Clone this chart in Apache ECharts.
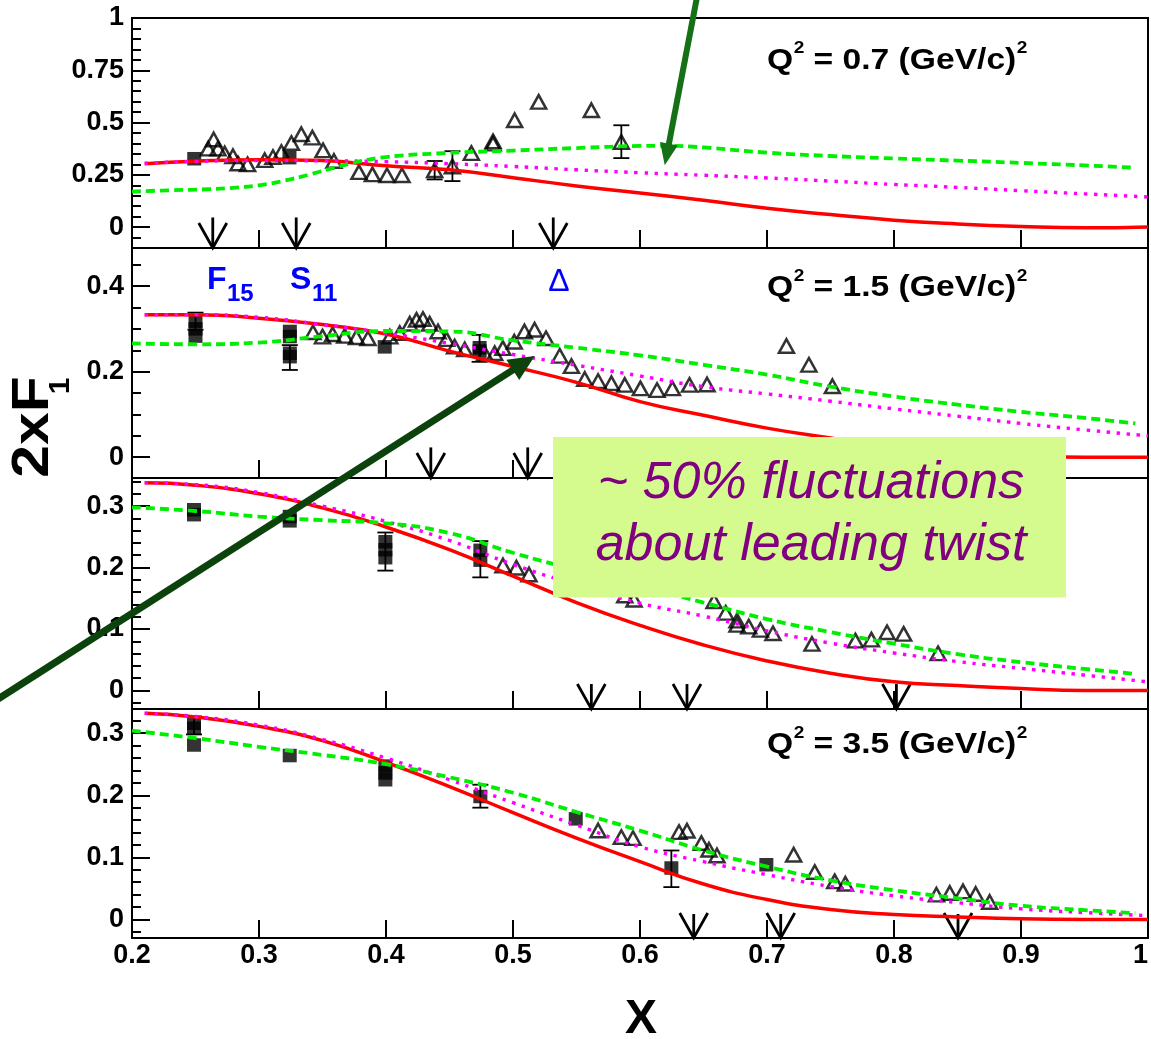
<!DOCTYPE html>
<html>
<head>
<meta charset="utf-8">
<title>2xF1 versus x</title>
<script src="https://cdn.jsdelivr.net/npm/echarts@6.0.0/dist/echarts.min.js"></script>
<style>
  html, body { margin: 0; padding: 0; background: #ffffff; }
  #chart { width: 1151px; height: 1039px; }
</style>
</head>
<body>
<div id="chart"></div>
<script>
// ---------------- axis ticks ----------------
const xTickValues  = [0.3, 0.4, 0.5, 0.6, 0.7, 0.8, 0.9];
const xLabelValues = [0.2, 0.3, 0.4, 0.5, 0.6, 0.7, 0.8, 0.9, 1.0];

const yTicks07 = [0, 0.25, 0.5, 0.75, 1];
const yTicks15 = [0, 0.2, 0.4];
const yTicks25 = [0, 0.1, 0.2, 0.3];
const yTicks35 = [0, 0.1, 0.2, 0.3];

const qValues = ['0.7', '1.5', null, '3.5'];

// ---------------- model curves ----------------
const curveX   = [0.21, 0.25, 0.30, 0.35, 0.40, 0.45, 0.50, 0.55, 0.60, 0.65, 0.70, 0.75, 0.80, 0.85, 0.90, 0.95, 1.00];
const greenX   = [0.20, 0.25, 0.30, 0.35, 0.40, 0.45, 0.50, 0.55, 0.60, 0.65, 0.70, 0.75, 0.80, 0.85, 0.90, 0.95, 0.99];
const greenX07 = [0.20, 0.23, 0.26, 0.28, 0.30, 0.32, 0.34, 0.36, 0.38, 0.40, 0.44, 0.50, 0.55, 0.60, 0.62, 0.65, 0.70, 0.75, 0.80, 0.85, 0.90, 0.95, 0.99];

const red07   = [0.303, 0.315, 0.322, 0.318, 0.293, 0.274, 0.236, 0.197, 0.163, 0.128, 0.090, 0.060, 0.033, 0.015, 0.003, -0.003, 0.001];
const mag07   = [0.305, 0.314, 0.318, 0.317, 0.313, 0.303, 0.290, 0.274, 0.260, 0.248, 0.235, 0.220, 0.204, 0.190, 0.174, 0.159, 0.144];
const green07 = [0.170, 0.176, 0.181, 0.188, 0.200, 0.222, 0.252, 0.285, 0.315, 0.335, 0.352, 0.366, 0.378, 0.388, 0.389, 0.381, 0.356, 0.340, 0.328, 0.318, 0.307, 0.295, 0.284];

const red15   = [0.333, 0.333, 0.325, 0.310, 0.288, 0.248, 0.212, 0.175, 0.130, 0.098, 0.068, 0.045, 0.024, 0.011, 0.004, 0.000, 0.000];
const mag15   = [0.333, 0.333, 0.327, 0.310, 0.290, 0.266, 0.240, 0.215, 0.190, 0.165, 0.148, 0.131, 0.113, 0.096, 0.079, 0.064, 0.050];
const green15 = [0.266, 0.264, 0.268, 0.283, 0.295, 0.294, 0.273, 0.256, 0.238, 0.216, 0.193, 0.165, 0.142, 0.123, 0.106, 0.092, 0.079];

const red25   = [0.338, 0.334, 0.320, 0.297, 0.266, 0.229, 0.186, 0.143, 0.106, 0.074, 0.048, 0.028, 0.014, 0.008, 0.003, 0.000, 0.000];
const mag25   = [0.338, 0.335, 0.322, 0.300, 0.275, 0.244, 0.205, 0.172, 0.142, 0.121, 0.097, 0.077, 0.061, 0.047, 0.036, 0.025, 0.014];
const green25 = [0.298, 0.292, 0.283, 0.277, 0.272, 0.256, 0.224, 0.196, 0.170, 0.143, 0.116, 0.095, 0.076, 0.059, 0.046, 0.035, 0.027];

const red35   = [0.332, 0.326, 0.311, 0.288, 0.253, 0.214, 0.172, 0.131, 0.093, 0.057, 0.032, 0.016, 0.008, 0.004, 0.001, 0.000, 0.000];
const mag35   = [0.332, 0.327, 0.313, 0.290, 0.260, 0.225, 0.188, 0.152, 0.117, 0.093, 0.072, 0.053, 0.038, 0.027, 0.017, 0.011, 0.006];
const green35 = [0.304, 0.292, 0.278, 0.265, 0.250, 0.229, 0.204, 0.173, 0.143, 0.111, 0.085, 0.063, 0.047, 0.034, 0.022, 0.015, 0.010];

// ---------------- measurements ----------------
const sq07 = [[0.249, 0.327], [0.324, 0.332]];
const tri07 = [
  [0.260, 0.375], [0.2643, 0.419], [0.2677, 0.375], [0.273, 0.352], [0.2795, 0.339], [0.2835, 0.304],
  [0.291, 0.300], [0.3045, 0.320], [0.311, 0.335], [0.3176, 0.359], [0.3255, 0.402], [0.3333, 0.444],
  [0.342, 0.428], [0.3504, 0.367], [0.359, 0.316], [0.3787, 0.263], [0.3893, 0.252], [0.4008, 0.248],
  [0.4126, 0.248], [0.4383, 0.272], [0.4523, 0.290], [0.4672, 0.354], [0.4843, 0.399], [0.4843, 0.410],
  [0.5013, 0.511], [0.5202, 0.599], [0.5617, 0.559], [0.5853, 0.407]
];
const err07 = [[0.4383, 0.228, 0.316], [0.4523, 0.220, 0.363], [0.5853, 0.330, 0.487]];
const res07 = [0.2636, 0.3293, 0.5317];

const sq15 = [
  [0.250, 0.318], [0.250, 0.300], [0.250, 0.283], [0.3243, 0.294], [0.3243, 0.282],
  [0.3243, 0.243], [0.3243, 0.235], [0.399, 0.258], [0.4737, 0.256], [0.4737, 0.248]
];
const tri15 = [
  [0.3425, 0.292], [0.350, 0.282], [0.358, 0.2875], [0.3675, 0.2836], [0.3767, 0.2805], [0.3858, 0.278],
  [0.403, 0.282], [0.4108, 0.290], [0.4187, 0.312], [0.424, 0.321], [0.4291, 0.323], [0.4344, 0.312],
  [0.441, 0.294], [0.4476, 0.276], [0.454, 0.2586], [0.462, 0.252], [0.4777, 0.243], [0.4856, 0.243],
  [0.492, 0.255], [0.501, 0.270], [0.509, 0.294], [0.517, 0.298], [0.526, 0.278], [0.5368, 0.237],
  [0.546, 0.213], [0.5565, 0.183], [0.567, 0.178], [0.5775, 0.173], [0.588, 0.169], [0.6003, 0.161],
  [0.6134, 0.157], [0.6255, 0.161], [0.639, 0.169], [0.6528, 0.170], [0.7153, 0.260], [0.733, 0.216],
  [0.7515, 0.166]
];
const err15 = [[0.250, 0.298, 0.338], [0.3243, 0.204, 0.262], [0.4737, 0.223, 0.286]];
const res15 = [0.4353, 0.5116];

const sq25 = [
  [0.2488, 0.294], [0.2488, 0.286], [0.3242, 0.283], [0.3242, 0.276], [0.3995, 0.242],
  [0.3995, 0.229], [0.3995, 0.216], [0.4743, 0.228], [0.4743, 0.212]
];
const tri25 = [
  [0.4921, 0.2034], [0.5027, 0.1997], [0.5126, 0.1887], [0.588, 0.1545], [0.5953, 0.1475], [0.6583, 0.1452],
  [0.6675, 0.1263], [0.6764, 0.1137], [0.6764, 0.1067], [0.6856, 0.1039], [0.6948, 0.0985], [0.7047, 0.093],
  [0.7354, 0.0757], [0.7696, 0.0811], [0.7822, 0.0827], [0.7945, 0.0946], [0.8076, 0.092], [0.8347, 0.0604]
];
const err25 = [[0.3995, 0.195, 0.257], [0.4743, 0.184, 0.243]];
const res25 = [0.5617, 0.637, 0.8019];

const sq35 = [
  [0.2488, 0.316], [0.2488, 0.308], [0.2488, 0.281], [0.3242, 0.264], [0.3995, 0.247], [0.3995, 0.236],
  [0.3995, 0.225], [0.4743, 0.198], [0.5494, 0.162], [0.6247, 0.0828], [0.6995, 0.088]
];
const tri35 = [
  [0.567, 0.1433], [0.5853, 0.1327], [0.5945, 0.131], [0.6307, 0.1407], [0.637, 0.1428], [0.6483, 0.123],
  [0.6543, 0.1122], [0.6606, 0.103], [0.721, 0.1042], [0.7376, 0.0763], [0.7533, 0.0612], [0.7617, 0.0575],
  [0.8334, 0.0398], [0.8439, 0.0425], [0.8543, 0.0451], [0.8643, 0.0409], [0.8753, 0.028]
];
const err35 = [[0.2488, 0.298, 0.327], [0.4743, 0.180, 0.217], [0.6247, 0.052, 0.111]];
const res35 = [0.6423, 0.7108, 0.8504];

// ---------------- panel set-up ----------------
const FONT = '"Liberation Sans", Arial, Helvetica, sans-serif';
const LEFT = 132, WIDTH = 1016;

const panels = [
  { top: 18,  height: 230, min: -0.1,    max: 1.0,    major: yTicks07, step: 0.05, arrowTop: 0.046,
    sq: sq07, tri: tri07, err: err07, res: res07, red: red07, mag: mag07, green: green07, gx: greenX07 },
  { top: 248, height: 230, min: -0.0485, max: 0.489,  major: yTicks15, step: 0.05, arrowTop: 0.023,
    sq: sq15, tri: tri15, err: err15, res: res15, red: red15, mag: mag15, green: green15, gx: greenX },
  { top: 478, height: 231, min: -0.0302, max: 0.3457, major: yTicks25, step: 0.02, arrowTop: 0.0104,
    sq: sq25, tri: tri25, err: err25, res: res25, red: red25, mag: mag25, green: green25, gx: greenX },
  { top: 709, height: 229, min: -0.030,  max: 0.339,  major: yTicks35, step: 0.02, arrowTop: 0.0087,
    sq: sq35, tri: tri35, err: err35, res: res35, red: red35, mag: mag35, green: green35, gx: greenX }
];

function minorTicks(p) {
  const out = [];
  for (let k = Math.ceil(p.min / p.step - 1e-9); k * p.step <= p.max + 1e-9; k++) {
    const v = +(k * p.step).toFixed(4);
    if (Math.abs(v - p.min) < 1e-6 || Math.abs(v - p.max) < 1e-6) continue;
    if (p.major.some(m => Math.abs(m - v) < 1e-6)) continue;
    out.push(v);
  }
  return out;
}

const fmt = v => String(Math.round(v * 100) / 100);
const black = '#000000';

function renderErr(params, api) {
  const x = api.value(0);
  const pLo = api.coord([x, api.value(1)]);
  const pHi = api.coord([x, api.value(2)]);
  const w = 8;
  const st = { stroke: black, lineWidth: 1.8 };
  return { type: 'group', children: [
    { type: 'line', shape: { x1: pLo[0], y1: pLo[1], x2: pHi[0], y2: pHi[1] }, style: st },
    { type: 'line', shape: { x1: pLo[0] - w, y1: pLo[1], x2: pLo[0] + w, y2: pLo[1] }, style: st },
    { type: 'line', shape: { x1: pHi[0] - w, y1: pHi[1], x2: pHi[0] + w, y2: pHi[1] }, style: st }
  ]};
}

function renderRes(params, api) {
  const x = api.value(0);
  const p0 = api.coord([x, api.value(1)]);
  const p1 = api.coord([x, api.value(2)]);
  const st = { stroke: black, lineWidth: 2.8, fill: null };
  return { type: 'group', children: [
    { type: 'line', shape: { x1: p0[0], y1: p0[1], x2: p1[0], y2: p1[1] }, style: st },
    { type: 'polyline', shape: { points: [[p1[0] - 14, p1[1] - 25], [p1[0], p1[1]], [p1[0] + 14, p1[1] - 25]] }, style: st }
  ]};
}

const grids = [], xAxes = [], yAxes = [], series = [];
const firstSeries = [];

panels.forEach((p, i) => {
  grids.push({ left: LEFT, width: WIDTH, top: p.top, height: p.height, show: true,
    borderColor: black, borderWidth: 2, backgroundColor: 'rgba(0,0,0,0)', outerBoundsMode: 'none' });

  xAxes.push({
    type: 'value', gridIndex: i, min: 0.2, max: 1.0,
    axisLine: { show: true, onZero: false, lineStyle: { color: black, width: 2 } },
    axisTick: { show: true, inside: true, length: 18, customValues: xTickValues, lineStyle: { color: black, width: 2 } },
    axisLabel: { show: i === 3, customValues: xLabelValues, formatter: fmt, margin: 4, color: black,
      fontSize: 27, fontWeight: 'bold', fontFamily: FONT, alignMaxLabel: 'right' },
    splitLine: { show: false }
  });

  yAxes.push({
    type: 'value', gridIndex: i, min: p.min, max: p.max, position: 'left',
    axisLine: { show: true, onZero: false, lineStyle: { color: black, width: 2 } },
    axisTick: { show: true, inside: true, length: 18, customValues: p.major, lineStyle: { color: black, width: 2 } },
    axisLabel: { show: true, customValues: p.major, formatter: fmt, margin: 8, color: black,
      fontSize: 27, fontWeight: 'bold', fontFamily: FONT },
    splitLine: { show: false }
  });
  yAxes.push({
    type: 'value', gridIndex: i, min: p.min, max: p.max, position: 'left',
    axisLine: { show: false },
    axisTick: { show: true, inside: true, length: 9, customValues: minorTicks(p), lineStyle: { color: black, width: 2 } },
    axisLabel: { show: false },
    splitLine: { show: false }
  });

  const axes = { xAxisIndex: i, yAxisIndex: 2 * i };
  firstSeries.push(series.length);

  series.push(Object.assign({
    type: 'scatter', data: p.sq, symbol: 'rect', symbolSize: [14, 13.5],
    itemStyle: { color: black }, silent: true, z: 2
  }, axes));
  series.push(Object.assign({
    type: 'scatter', data: p.tri, symbol: 'triangle', symbolSize: [15, 13.5],
    itemStyle: { color: 'rgba(0,0,0,0)', borderColor: black, borderWidth: 2.5 }, silent: true, z: 2
  }, axes));
  series.push(Object.assign({
    type: 'custom', renderItem: renderErr, data: p.err, encode: { x: 0, y: [1, 2] }, silent: true, z: 2
  }, axes));
  series.push(Object.assign({
    type: 'custom', renderItem: renderRes, data: p.res.map(x => [x, p.arrowTop, p.min]),
    encode: { x: 0, y: [1, 2] }, silent: true, z: 2
  }, axes));

  const lineBase = { type: 'line', showSymbol: false, symbol: 'none', smooth: 0.5,
    silent: true, z: 3, clip: true };
  series.push(Object.assign({}, lineBase, axes, {
    data: curveX.map((x, k) => [x, p.red[k]]),
    lineStyle: { color: '#ff0000', width: 3.5, type: 'solid' }
  }));
  series.push(Object.assign({}, lineBase, axes, {
    data: curveX.map((x, k) => [x, p.mag[k]]),
    lineStyle: { color: '#ff00ff', width: 3.4, type: [3.4, 6.6], cap: 'butt' }
  }));
  series.push(Object.assign({}, lineBase, axes, {
    data: p.gx.map((x, k) => [x, p.green[k]]),
    lineStyle: { color: '#00ee00', width: 3.8, type: [9, 5], cap: 'butt' }
  }));
});

const chart = echarts.init(document.getElementById('chart'), null, { renderer: 'canvas' });
chart.setOption({
  animation: false,
  backgroundColor: '#ffffff',
  grid: grids,
  xAxis: xAxes,
  yAxis: yAxes,
  series: series
});

// ---------------- annotations ----------------
const measureCtx = document.createElement('canvas').getContext('2d');
function textWidth(txt, font) { measureCtx.font = font; return measureCtx.measureText(txt).width; }

function txt(text, x, y, font, fill, align, extra) {
  return Object.assign({
    type: 'text', x: x, y: y, silent: true,
    style: { text: text, font: font, fill: fill || black,
      align: align || 'left', verticalAlign: 'middle',
      textAlign: align || 'left', textVerticalAlign: 'middle' }
  }, extra || {});
}

const fMain = 'bold 30px "Liberation Sans"';
const fSup  = 'bold 17px "Liberation Sans"';
const qCapY = [60.8, 288, null, 745];

const graphics = [];

// Q^2 labels in the upper right corner of each panel
qValues.forEach((q, i) => {
  if (q === null) return;
  const y = qCapY[i];
  const wQ = textWidth('Q', fMain);
  const w2 = textWidth('2', fSup);
  const mid = ' = ' + q + ' (GeV/c)';
  const wMid = textWidth(mid, fMain);
  graphics.push({
    type: 'group', x: 767, y: 0, scaleX: 1.12, z: 50, silent: true,
    children: [
      txt('Q', 0, y, fMain),
      txt('2', wQ + 0.5, y - 12, fSup),
      txt(mid, wQ + w2 + 0.5, y, fMain),
      txt('2', wQ + w2 + wMid + 1, y - 12, fSup)
    ]
  });
});

// resonance names
const blue = '#0000ff';
graphics.push(txt('F', 207, 280, 'bold 32px "Liberation Sans"', blue, 'left', { z: 50 }));
graphics.push(txt('15', 227, 294, 'bold 24px "Liberation Sans"', blue, 'left', { z: 50 }));
graphics.push(txt('S', 290, 280, 'bold 32px "Liberation Sans"', blue, 'left', { z: 50 }));
graphics.push(txt('11', 312, 294, 'bold 24px "Liberation Sans"', blue, 'left', { z: 50 }));
graphics.push(txt('\u0394', 559, 282, '32px "Liberation Sans"', blue, 'center', { z: 50 }));

// axis titles
graphics.push(txt('2xF', 33.5, 427, 'bold 52px "Liberation Sans"', black, 'center',
  { rotation: Math.PI / 2, scaleX: 1.13, z: 50 }));
graphics.push(txt('1', 61, 386, 'bold 30px "Liberation Sans"', black, 'center',
  { rotation: Math.PI / 2, z: 50 }));
graphics.push(txt('X', 641, 1019.5, 'bold 48px "Liberation Sans"', black, 'center', { z: 50 }));

// highlighted comment box
graphics.push({ type: 'rect', silent: true, z: 60,
  shape: { x: 553, y: 437, width: 513, height: 160.5 }, style: { fill: '#d5fb8f' } });
const purple = '#800080';
graphics.push(txt('~ 50% fluctuations', 811, 484, 'italic 52px "Liberation Sans"', purple, 'center', { z: 61 }));
graphics.push(txt('about leading twist', 811, 546, 'italic 52px "Liberation Sans"', purple, 'center', { z: 61 }));

// green pointer arrows, anchored in data space of their panels
function pointer(seriesIndex, tail, tip, width, headLen, headW, color) {
  const a = chart.convertToPixel({ seriesIndex: seriesIndex }, tail);
  const b = chart.convertToPixel({ seriesIndex: seriesIndex }, tip);
  const dx = b[0] - a[0], dy = b[1] - a[1];
  const len = Math.hypot(dx, dy);
  const ux = dx / len, uy = dy / len, px = -uy, py = ux;
  const bx = b[0] - ux * headLen, by = b[1] - uy * headLen;
  return [
    { type: 'line', silent: true, z: 70,
      shape: { x1: a[0], y1: a[1], x2: bx + ux * 3, y2: by + uy * 3 },
      style: { stroke: color, lineWidth: width } },
    { type: 'polygon', silent: true, z: 70,
      shape: { points: [[b[0], b[1]], [bx + px * headW / 2, by + py * headW / 2], [bx - px * headW / 2, by - py * headW / 2]] },
      style: { fill: color } }
  ];
}
graphics.push(...pointer(firstSeries[0], [0.6455, 1.12], [0.6195, 0.2955], 6, 22, 18, '#167016'));
graphics.push(...pointer(firstSeries[1], [0.085, -0.583], [0.5171, 0.2367], 7, 26, 24, '#0c420c'));

chart.setOption({ graphic: graphics });
</script>
</body>
</html>
